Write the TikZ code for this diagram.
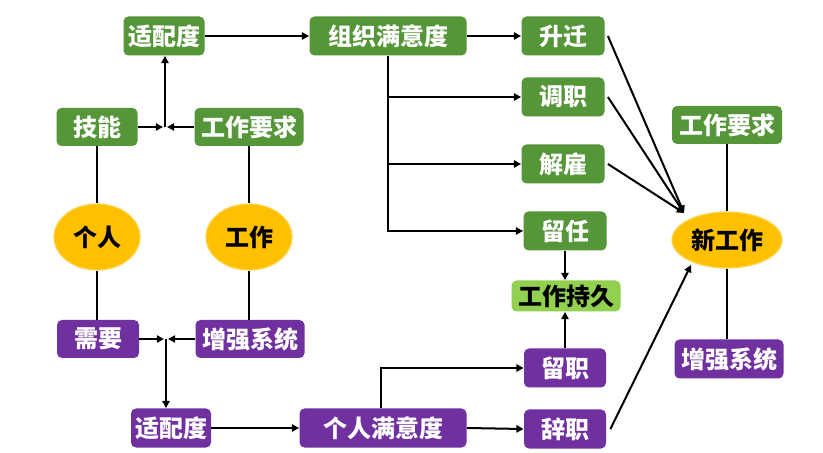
\documentclass[tikz,border=0pt]{standalone}
\usepackage{fontspec}
\setmainfont{Noto Sans CJK SC}
\usetikzlibrary{arrows.meta,shapes.geometric,calc}
\definecolor{gbox}{RGB}{84,150,56}
\definecolor{lgbox}{RGB}{146,208,80}
\definecolor{pbox}{RGB}{112,48,160}
\definecolor{ybox}{RGB}{255,192,0}
\begin{document}
\begin{tikzpicture}[x=0.5pt,y=-0.5pt,
  base/.style={rounded corners=2.5pt,font=\fontsize{12}{12}\selectfont\bfseries,inner sep=0pt,text=white},
  gb/.style={base,fill=gbox,minimum height=19.5pt},
  pb/.style={base,fill=pbox,minimum height=19.5pt},
  lb/.style={base,fill=lgbox,text=black,minimum height=15.5pt},
  ell/.style={ellipse,fill=ybox,draw=ybox!70!white,line width=0.6pt,inner sep=0pt,text=black,font=\fontsize{12}{12}\selectfont\bfseries},
  ln/.style={line width=1pt,draw=black},
  arr/.style={ln,-{Triangle[length=3.6pt,width=3.6pt]}}]
\path[use as bounding box,fill=white] (0,0) rectangle (823,453);
% green top
\node[gb,minimum width=40.5pt] (fitT) at (164,36) {适配度};
\node[gb,minimum width=78.5pt] (org) at (388,36) {组织满意度};
\node[gb,minimum width=41.5pt] (sheng) at (563,36) {升迁};
\node[gb,minimum width=41.5pt] (diao) at (563,97) {调职};
\node[gb,minimum width=41.5pt] (jie) at (563,164) {解雇};
\node[gb,minimum width=41.5pt] (liu) at (565,231) {留任};
\node[lb,minimum width=54.5pt] (chi) at (566,296) {工作持久};
\node[pb,minimum width=41pt] (liuzhi) at (565,368) {留职};
\node[pb,minimum width=41pt] (ci) at (565,429) {辞职};
\node[gb,minimum width=40.5pt,minimum height=19pt] (jineng) at (97,127) {技能};
\node[gb,minimum width=54.5pt,minimum height=19pt] (yq) at (249,127) {工作要求};
\node[ell,minimum width=43pt,minimum height=33pt] (geren) at (97,237) {个人};
\node[ell,minimum width=43pt,minimum height=33pt] (gz) at (249,237) {工作};
\node[pb,minimum width=41pt,minimum height=19pt] (xuyao) at (98,339) {需要};
\node[pb,minimum width=54.5pt,minimum height=19pt] (zq) at (250,339) {增强系统};
\node[pb,minimum width=40pt] (fitB) at (171,428) {适配度};
\node[pb,minimum width=83.5pt] (grm) at (383,428) {个人满意度};
\node[gb,minimum width=55pt,minimum height=19pt] (yq2) at (727,125) {工作要求};
\node[ell,minimum width=55pt,minimum height=28pt] (xin) at (727,240) {新工作};
\node[pb,minimum width=54.5pt] (zq2) at (729,359) {增强系统};
% junctions
\coordinate (j1) at (165,127);
\coordinate (j2) at (166,339);
\coordinate (xa) at (684,213);
\coordinate (xb) at (691,265);
% left top
\draw[arr] (jineng.east) -- ([xshift=-1pt]j1);
\draw[arr] (yq.west) -- ([xshift=1pt]j1);
\draw[arr] (j1) -- (j1 |- fitT.south);
\draw[ln] (jineng.south) -- (geren.north);
\draw[ln] (yq.south) -- (gz.north);
\draw[ln] (geren.south) -- (xuyao.north -| geren.south);
\draw[ln] (gz.south) -- (zq.north -| gz.south);
% left bottom
\draw[arr] (xuyao.east) -- ([xshift=-1pt]j2);
\draw[arr] (zq.west) -- ([xshift=1pt]j2);
\draw[arr] (j2) -- (j2 |- fitB.north);
\draw[arr] (fitB.east) -- (grm.west);
\draw[arr] (grm.east) -- (ci.west);
\draw[arr] ([xshift=-1pt]grm.north) |- (liuzhi.west);
% top
\draw[arr] (fitT.east) -- (org.west);
\draw[arr] (org.east) -- (sheng.west);
\draw[arr] (org.south) |- (liu.west);
\draw[arr] (org.south |- diao.west) -- (diao.west);
\draw[arr] (org.south |- jie.west) -- (jie.west);
% middle
\draw[arr] (liu.south) -- (liu.south |- chi.north);
\draw[arr] (liuzhi.north) -- (liuzhi.north |- chi.south);
% right
\draw[arr] ([xshift=1.5pt]sheng.east) -- (xa);
\draw[arr] ([xshift=1.5pt]diao.east) -- (xa);
\draw[arr] ([xshift=1.5pt]jie.east) -- (xa);
\draw[arr] ([xshift=2pt]ci.east) -- (xb);
\draw[ln] (yq2.south -| xin.north) -- (xin.north);
\draw[ln] (xin.south) -- (zq2.north -| xin.south);
\end{tikzpicture}
\end{document}
